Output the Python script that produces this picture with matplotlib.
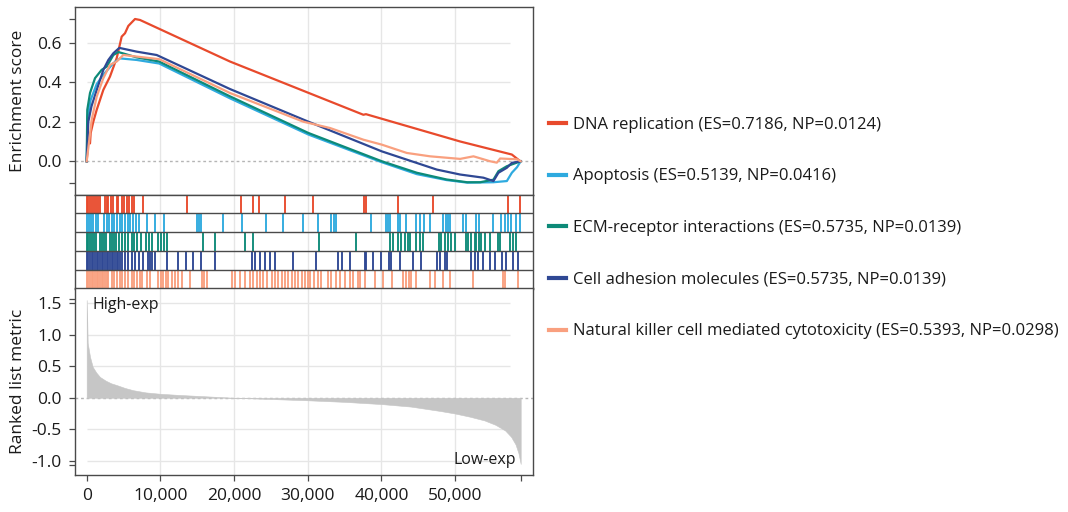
"""Multi gene-set GSEA plot: running ES, hit strips, ranked list metric."""

import matplotlib
matplotlib.use("Agg")
import matplotlib.pyplot as plt
from matplotlib.lines import Line2D
from matplotlib.ticker import FuncFormatter

plt.rcParams["font.family"] = ["Open Sans", "DejaVu Sans"]

# ── data ────────────────────────────────────────────────────────────
N_GENES = 58900

SET_NAMES = [
    "DNA replication (ES=0.7186, NP=0.0124)",
    "Apoptosis (ES=0.5139, NP=0.0416)",
    "ECM-receptor interactions (ES=0.5735, NP=0.0139)",
    "Cell adhesion molecules (ES=0.5735, NP=0.0139)",
    "Natural killer cell mediated cytotoxicity (ES=0.5393, NP=0.0298)",
]
SET_COLORS = ["#e84a2c", "#2eaadf", "#0d8a78", "#2f4894", "#f9a07f"]

# running enrichment score (rank, ES) knots per set
es_dna_rank = [0, 220, 450, 540, 900, 1360, 2260, 3160, 4070, 4750, 5200, 5650,
               6560, 7240, 19450, 37550, 37900, 50680, 57700, 58850]
es_dna_val = [0, 0.11, 0.09, 0.143, 0.2, 0.26, 0.361, 0.428, 0.521, 0.63, 0.647, 0.684,
              0.719, 0.714, 0.504, 0.235, 0.238, 0.10, 0.034, 0.0]

es_apo_rank = [0, 130, 540, 1360, 2260, 3620, 4520, 6790, 9840, 19450, 30090, 40050,
               44800, 48830, 51640, 55200, 57020, 57700, 58400, 58900]
es_apo_val = [0, 0.227, 0.31, 0.39, 0.437, 0.496, 0.52, 0.512, 0.494, 0.318, 0.135, -0.005,
              -0.065, -0.095, -0.108, -0.106, -0.1, -0.058, -0.03, 0.0]

es_ecm_rank = [0, 80, 450, 1130, 2030, 2710, 3620, 4300, 6790, 9840, 19450, 30090,
               40050, 44800, 48830, 51640, 53400, 55200, 55880, 57020, 58900]
es_ecm_val = [0, 0.26, 0.345, 0.42, 0.462, 0.478, 0.537, 0.552, 0.525, 0.504, 0.328, 0.143,
              0.0, -0.058, -0.092, -0.106, -0.106, -0.093, -0.05, -0.025, 0.0]

es_cam_rank = [0, 220, 650, 1360, 2260, 2940, 3620, 4430, 6790, 9500, 19450, 30090,
               40050, 47510, 50680, 53840, 55200, 55880, 57020, 57700, 58900]
es_cam_val = [0, 0.2, 0.278, 0.36, 0.462, 0.512, 0.546, 0.573, 0.554, 0.537, 0.365, 0.2,
              0.05, -0.042, -0.067, -0.083, -0.1, -0.058, -0.033, -0.008, 0.0]

es_nk_rank = [0, 360, 680, 1360, 2260, 3160, 4070, 4970, 6790, 9840, 19450, 29400,
              33030, 37550, 40050, 43440, 46600, 50680, 52490, 54750, 55660, 56110,
              58380, 58900]
es_nk_val = [0, 0.109, 0.21, 0.327, 0.42, 0.487, 0.504, 0.537, 0.529, 0.516, 0.345, 0.2,
             0.168, 0.109, 0.084, 0.042, 0.025, 0.012, 0.025, 0.0, -0.007, 0.014,
             0.01, 0.0]

# hit positions (gene ranks) per set
hits_dna = [0, 222, 448, 765, 991, 1217, 1579, 1805, 2484, 2710, 2937, 3299, 3615,
            4068, 4294, 4747, 5109, 5425, 5742, 6104, 6466, 7688, 13571, 20902,
            22621, 23390, 26920, 30720, 37646, 37963, 42261, 47013, 57194, 58868]
hits_apo = [0, 312, 584, 900, 1217, 1489, 2394, 2710, 3027, 3389, 3751, 4068, 4520,
            4837, 5199, 5561, 5923, 6330, 6692, 7099, 8141, 9272, 10539, 14928,
            15245, 15516, 18548, 21037, 24295, 26693, 29409, 31401, 33211, 33528,
            33890, 38641, 40587, 40904, 41221, 42261, 42578, 43393, 44750, 45203,
            45746, 46560, 48370, 48732, 49049, 49275, 51085, 51447, 52895, 53257,
            55158, 56289, 56741, 57194, 57646, 58325, 58778]
hits_ecm = [0, 222, 448, 765, 1036, 1263, 1805, 2036, 2348, 2620, 3163, 3389, 3706,
            3977, 4430, 4747, 5199, 5651, 6194, 6466, 6783, 7371, 8005, 8457, 8910,
            9634, 10086, 10539, 10946, 15833, 17417, 21490, 22621, 31537, 36605,
            41221, 41583, 42261, 42714, 43166, 43619, 43936, 44750, 45203, 45655,
            47827, 48144, 48596, 49049, 49501, 49954, 51538, 51764, 52217, 52669,
            52895, 53257, 53574, 54026, 54705, 55837, 56063, 57420, 57873, 58325]
hits_cam = [0, 222, 448, 674, 901, 1127, 1353, 1579, 1805, 2032, 2258, 2484, 2710,
            2937, 3163, 3389, 3615, 3842, 4068, 4294, 4520, 4747, 5199, 5651, 6104,
            6556, 7099, 7597, 8276, 8593, 8910, 9272, 10856, 12349, 13480, 14476,
            15516, 17417, 22394, 22847, 23526, 24204, 24883, 25562, 28051, 31175,
            34116, 34705, 35700, 37737, 37963, 38868, 39999, 41040, 41357, 42578,
            44298, 45429, 47556, 47918, 48596, 48913, 52217, 52669, 53122, 53800,
            54705, 55384, 56425, 56968, 57873, 58551]
hits_nk = [0, 222, 448, 674, 901, 1127, 1353, 1579, 1805, 2032, 2258, 2484, 2710,
           2937, 3389, 3751, 4068, 4520, 4837, 5199, 5651, 6104, 6466, 6783, 7235,
           7461, 8141, 8593, 9634, 10086, 10403, 10720, 11082, 11534, 11987, 12439,
           12892, 14023, 15607, 15969, 16286, 19770, 20132, 20811, 21490, 22168,
           22621, 23073, 23526, 23978, 24431, 25109, 25562, 26015, 26467, 26920,
           27372, 27825, 28277, 28730, 29182, 29591, 30044, 30360, 30813, 31401,
           31854, 32759, 33211, 33890, 34343, 35022, 35700, 36153, 36831, 37148,
           37737, 39094, 40225, 41492, 42940, 43302, 43755, 44071, 44750, 46560,
           47239, 48370, 49275, 52443, 56515, 56741, 58551]

# ranked list metric (rank, value) knots
metric_rank = [0, 80, 135, 450, 815, 1300, 1800, 2600, 3300, 4100, 5200, 6300, 8000,
               10000, 12500, 15000, 17500, 20000, 25000, 30000, 35000, 40000, 44000,
               48000, 50000, 52000, 54000, 55500, 56800, 57600, 58200, 58600, 58900]
metric_val = [1.55, 1.2, 0.87, 0.65, 0.49, 0.4, 0.33, 0.27, 0.23, 0.2, 0.155, 0.12,
              0.085, 0.063, 0.045, 0.03, 0.015, 0.0, -0.02, -0.04, -0.065, -0.1, -0.14,
              -0.21, -0.25, -0.3, -0.36, -0.43, -0.52, -0.62, -0.74, -0.88, -1.05]

ES_CURVES = [(es_dna_rank, es_dna_val), (es_apo_rank, es_apo_val),
             (es_ecm_rank, es_ecm_val), (es_cam_rank, es_cam_val),
             (es_nk_rank, es_nk_val)]
HITS = [hits_dna, hits_apo, hits_ecm, hits_cam, hits_nk]

# ── styling ─────────────────────────────────────────────────────────
SPINE = "#4a4a4a"
GRID = "#e6e6e6"
TXT = "#1a1a1a"
XLIM = (-1590, 60560)
XTICKS = [0, 10000, 20000, 30000, 40000, 50000]


def _style(ax):
    for s in ax.spines.values():
        s.set_color(SPINE)
        s.set_linewidth(1.0)
    ax.tick_params(direction="out", length=4.5, width=0.9, color=SPINE,
                   labelsize=12.5, pad=5, labelcolor=TXT)
    ax.set_xlim(*XLIM)
    for x in XTICKS[1:]:
        ax.axvline(x, color=GRID, lw=1.0, zorder=0)


fig = plt.figure(figsize=(10.68, 5.12), dpi=100)
ax_es = fig.add_axes([0.0702, 0.6201, 0.4288, 0.3656])
ax_hit = fig.add_axes([0.0702, 0.4365, 0.4288, 0.1836])
ax_rk = fig.add_axes([0.0702, 0.0723, 0.4288, 0.3643])

# top: running enrichment score
_style(ax_es)
for y in [0.2, 0.4, 0.6]:
    ax_es.hlines(y, 0, 57500, color=GRID, lw=1.0, zorder=0)
ax_es.axhline(0, color="#b5b5b5", lw=1.0, ls=(0, (2, 2)), zorder=0)
for (r, v), c in zip(ES_CURVES, SET_COLORS):
    ax_es.plot(r, v, color=c, lw=1.6, zorder=3)
ax_es.set_ylim(-0.168, 0.778)
ax_es.set_yticks([-0.11, 0.0, 0.2, 0.4, 0.6, 0.72])
ax_es.set_yticklabels(["", "0.0", "0.2", "0.4", "0.6", ""])
ax_es.set_xticks([])
ax_es.set_ylabel("Enrichment score", fontsize=12.5, color=TXT)
ax_es.yaxis.set_label_coords(-0.107, 0.5)

# middle: hit strips
_style(ax_hit)
n_sets = len(HITS)
for i, (h, c) in enumerate(zip(HITS, SET_COLORS)):
    row = n_sets - 1 - i
    ax_hit.vlines(h, row, row + 1, color=c, lw=1.35, zorder=2)
for y in range(1, n_sets):
    ax_hit.axhline(y, color=SPINE, lw=1.0, zorder=3)
ax_hit.set_ylim(0, n_sets)
ax_hit.set_xticks([])
ax_hit.set_yticks([])

# bottom: ranked list metric
_style(ax_rk)
for y in [1.5, 1.0, 0.5, -0.5, -1.0]:
    ax_rk.hlines(y, 0, 57500, color=GRID, lw=1.0, zorder=0)
ax_rk.axhline(0, color="#b5b5b5", lw=1.0, ls=(0, (2, 2)), zorder=0)
ax_rk.fill_between(metric_rank, 0, metric_val, color="#c6c6c6", lw=0.4,
                   edgecolor="#c6c6c6", zorder=2)
ax_rk.set_ylim(-1.225, 1.734)
ax_rk.set_yticks([-1.06, -1.0, -0.5, 0.0, 0.5, 1.0, 1.5, 1.56])
ax_rk.set_yticklabels(["", "-1.0", "-0.5", "0.0", "0.5", "1.0", "1.5", ""])
ax_rk.set_xticks(XTICKS + [N_GENES])
ax_rk.xaxis.set_major_formatter(
    FuncFormatter(lambda v, _: "" if v == N_GENES else f"{int(v):,}"))
ax_rk.set_ylabel("Ranked list metric", fontsize=12.5, color=TXT)
ax_rk.yaxis.set_label_coords(-0.107, 0.5)
ax_rk.text(0.039, 0.91, "High-exp", transform=ax_rk.transAxes, fontsize=11.5,
           ha="left", va="center", color=TXT)
ax_rk.text(0.962, 0.08, "Low-exp", transform=ax_rk.transAxes, fontsize=11.5,
           ha="right", va="center", color=TXT)

# legend on the right
handles = [Line2D([0], [0], color=c, lw=3) for c in SET_COLORS]
fig.legend(handles, SET_NAMES, loc="upper left",
           bbox_to_anchor=(0.508, 0.785), frameon=False, fontsize=12,
           handlelength=1.0, handletextpad=0.45, labelspacing=2.14,
           borderaxespad=0, labelcolor=TXT)

fig.savefig("out.png", dpi=100)
